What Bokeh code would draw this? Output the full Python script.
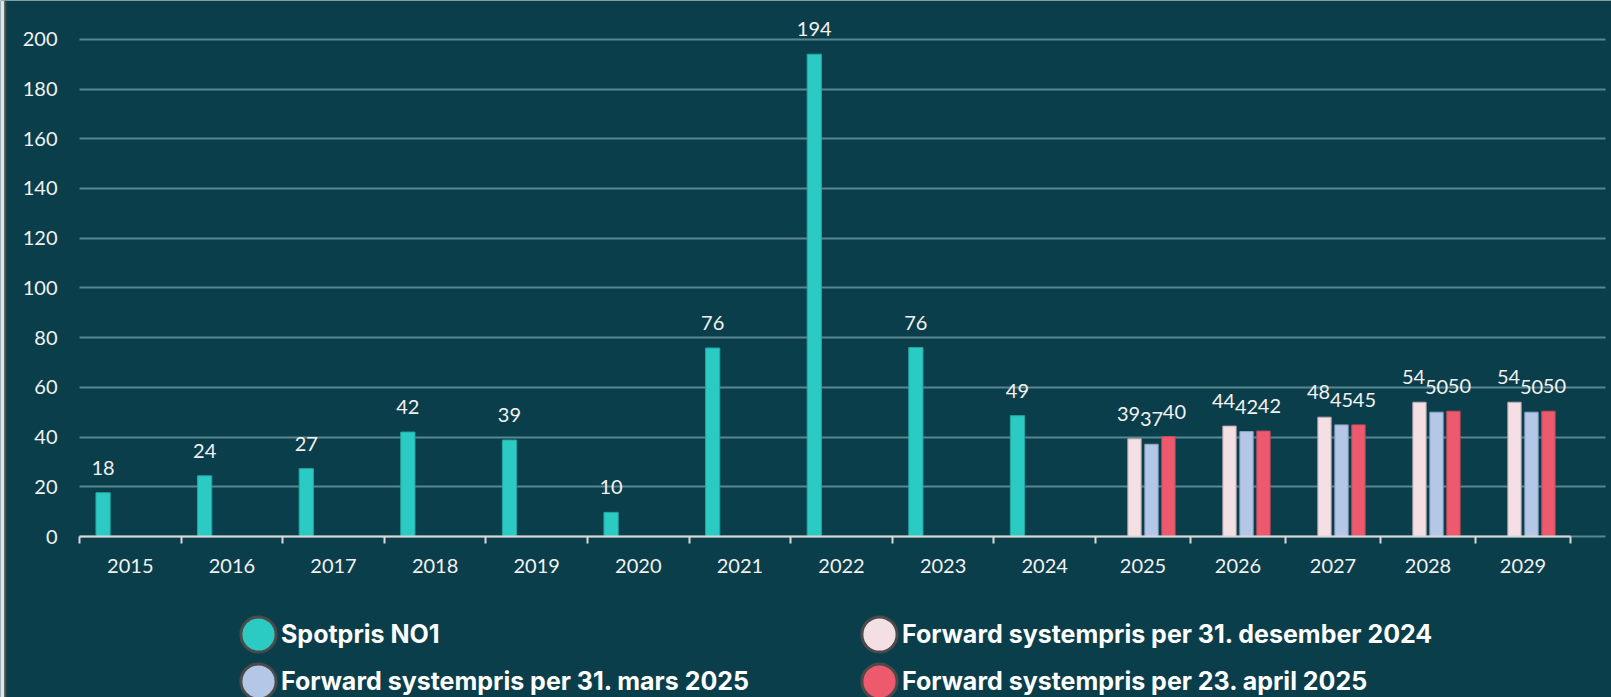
import numpy as np
from bokeh.plotting import figure
from bokeh.models import (ColumnDataSource, FixedTicker, Range1d, LabelSet, Legend, LegendItem,
                          BoxAnnotation)
from bokeh.core.properties import value
from bokeh.embed import file_html
from bokeh.resources import INLINE

# ---------------- data ----------------
years = [str(y) for y in range(2015, 2030)]
spot_years = years[:10]
spot_no1 = [17.6, 24.4, 27.3, 42.0, 38.8, 9.7, 75.8, 194.0, 76.0, 48.6]
fwd_years = years[10:]
fwd_dec24 = [39.3, 44.4, 48.0, 54.0, 54.0]
fwd_mar25 = [37.1, 42.2, 44.9, 50.0, 50.0]
fwd_apr25 = [40.2, 42.4, 44.9, 50.4, 50.4]
y_ticks = list(range(0, 201, 20))

series_names = ["Spotpris NO1",
                "Forward systempris per 31. desember 2024",
                "Forward systempris per 31. mars 2025",
                "Forward systempris per 23. april 2025"]

# ---------------- style ----------------
BG = "#0b3e4b"
GRID = "#5a868f"
AXIS = "#d9d9d9"
TXT = "#f2f2f2"
COLORS = ["#2bcbc4", "#f4dfe4", "#b4c7e7", "#ee5a6d"]
EDGES = ["#22a8a2", "#b9aab0", "#8ea3c4", "#c44a5a"]
LABEL_DX = [0, -6, 0, 6]

W, H = 1611, 697
PX_X = 101.6          # pixels per category unit
PX_Y = 2.486          # pixels per y unit
X0_PX, Y0_PX = 79, 536  # page position of data origin

# category geometry (layout only)
cat_w = np.array([1.0] * 10 + [0.935] * 5)
edges = np.concatenate([[0.0], np.cumsum(cat_w)])
centers = edges[:-1] + cat_w / 2
cpos = dict(zip(years, centers))
cwid = dict(zip(years, cat_w))
offsets = [-0.268, -0.0895, 0.0895, 0.268]
bar_frac = 0.14


def src(yrs, vals, k):
    return ColumnDataSource(dict(
        x=[cpos[y] + offsets[k] * cwid[y] for y in yrs],
        top=vals,
        w=[bar_frac * cwid[y] for y in yrs],
        label=[f"{v:.0f}" for v in vals],
    ))


p = figure(width=W, height=H,
           x_range=Range1d(-X0_PX / PX_X, (W - X0_PX) / PX_X),
           y_range=Range1d(-(H - Y0_PX) / PX_Y, Y0_PX / PX_Y),
           output_backend="svg", toolbar_location=None,
           min_border_left=0, min_border_right=0, min_border_top=0, min_border_bottom=0,
           background_fill_color=BG, border_fill_color=BG, outline_line_color=None)

# page edge strip seen at the left of the original
p.add_layout(BoxAnnotation(left=0, right=4, left_units="screen", right_units="screen",
                           fill_color="#dfe6e6", fill_alpha=1, line_color=None, level="underlay"))
p.add_layout(BoxAnnotation(left=4, right=6, left_units="screen", right_units="screen",
                           fill_color="#4a4a4a", fill_alpha=1, line_color=None, level="underlay"))

sources = [src(spot_years, spot_no1, 0), src(fwd_years, fwd_dec24, 1),
           src(fwd_years, fwd_mar25, 2), src(fwd_years, fwd_apr25, 3)]

# grid
p.xgrid.grid_line_color = None
p.ygrid.ticker = FixedTicker(ticks=y_ticks, minor_ticks=[])
p.ygrid.grid_line_color = GRID
p.ygrid.grid_line_width = 2
try:
    p.ygrid.cross_bounds = (0, (1605 - X0_PX) / PX_X)
except Exception:
    pass

for k, s in enumerate(sources):
    p.vbar(x="x", top="top", bottom=0, width="w", source=s,
           fill_color=COLORS[k], line_color=EDGES[k], line_width=1)
    p.add_layout(LabelSet(x="x", y="top", text="label", source=s,
                          x_offset=LABEL_DX[k], y_offset=25,
                          text_align="center", text_baseline="middle",
                          text_font=value("Lato"), text_font_size="20px", text_color=TXT))

# axes
xa = p.xaxis[0]
xa.fixed_location = 0
xa.bounds = (0, float(edges[-1]))
xa.ticker = FixedTicker(ticks=[float(c) for c in centers], minor_ticks=[float(e) for e in edges])
xa.major_label_overrides = {float(c): y for c, y in zip(centers, years)}
xa.major_tick_in = 0
xa.major_tick_out = 0
xa.minor_tick_in = 0
xa.minor_tick_out = 7
xa.minor_tick_line_color = AXIS
xa.minor_tick_line_width = 2
xa.axis_line_color = AXIS
xa.axis_line_width = 2
xa.major_label_text_font = "Lato"
xa.major_label_text_font_size = "20px"
xa.major_label_text_color = TXT
xa.major_label_standoff = 15

ya = p.yaxis[0]
ya.fixed_location = 0
ya.bounds = (0, 200)
ya.ticker = FixedTicker(ticks=y_ticks, minor_ticks=[])
ya.axis_line_color = None
ya.major_tick_line_color = None
ya.major_tick_out = 0
ya.major_tick_in = 0
ya.minor_tick_line_color = None
ya.major_label_text_font = "Lato"
ya.major_label_text_font_size = "20px"
ya.major_label_text_color = TXT
ya.major_label_standoff = 22

# legend glyph proxies (circles; NaN position so nothing is drawn in the plot)
markers = [p.ellipse(x=[np.nan], y=[np.nan], width=32, height=32,
                     width_units="screen", height_units="screen",
                     fill_color=COLORS[k], line_color="#4a4a4a", line_width=3)
           for k in range(4)]

GLYPH = 44


def make_legend(idx, loc):
    lg = Legend(items=[LegendItem(label=series_names[i], renderers=[markers[i]]) for i in idx],
                location=loc, orientation="horizontal",
                glyph_width=GLYPH, glyph_height=GLYPH, label_standoff=1, label_width=620 - GLYPH,
                label_height=20, spacing=0, padding=0, margin=0,
                border_line_color=None, background_fill_alpha=0,
                label_text_font="Inter", label_text_font_style="bold",
                label_text_font_size="25px", label_text_color="white")
    p.add_layout(lg)


make_legend([0, 1], (258 - GLYPH // 2, H - (634 + GLYPH // 2)))
make_legend([2, 3], (258 - GLYPH // 2, H - (681 + GLYPH // 2)))

open("out.html", "w").write(file_html(p, INLINE))
